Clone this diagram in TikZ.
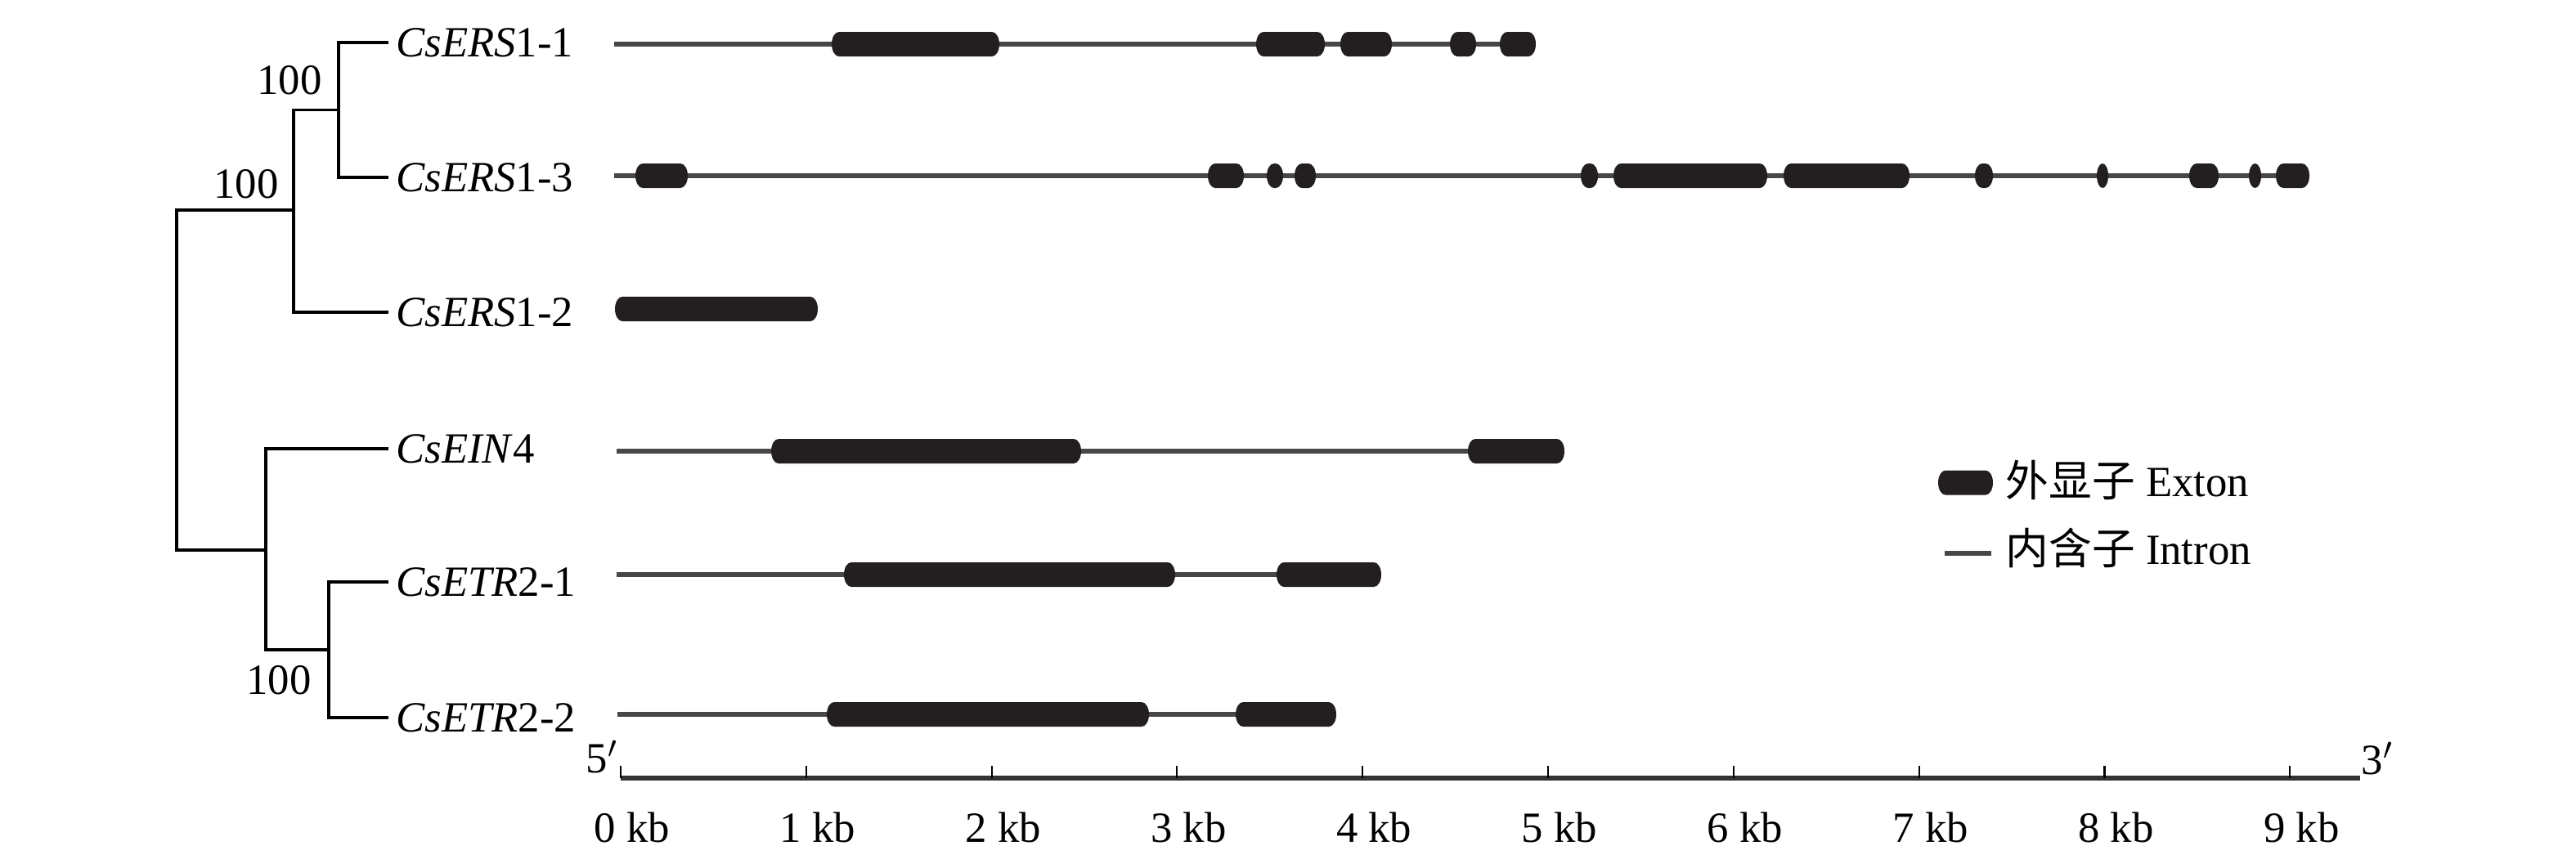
\documentclass[tikz,border=0pt]{standalone}
\usepackage{fontspec}
\setmainfont{Liberation Serif}
\newfontfamily\cjk{Noto Sans CJK SC}
\usepackage{tikz}
\usetikzlibrary{positioning,calc}
\usepackage{xcolor}
\definecolor{exonink}{HTML}{231F20}
\definecolor{intronink}{HTML}{474747}
\newcommand{\exon}[3]{%
  \pgfmathsetmacro{\exr}{min(0.09,(#2-#1)/2)}%
  \fill[exonink] (#1+\exr,#3+0.15) -- (#2-\exr,#3+0.15)
    arc[start angle=90,end angle=-90,x radius=\exr,y radius=0.15]
    -- (#1+\exr,#3-0.15)
    arc[start angle=270,end angle=90,x radius=\exr,y radius=0.15] -- cycle;}

\begin{document}
\begin{tikzpicture}[font=\fontsize{15pt}{18pt}\selectfont,
    branch/.style={line width=1pt, black},
    gene/.style={anchor=west, inner sep=2.5pt, text depth=0pt},
    intron/.style={line width=1.8pt, intronink},
    axisline/.style={line width=1.6pt, black!80}]
  \useasboundingbox (0,0) rectangle (31.5,-10.61);

  % tree
  \node[gene] (ers11) at (4.75,-0.52) {\textit{CsERS}1-1};
  \node[gene] (ers13) at (4.75,-2.17) {\textit{CsERS}1-3};
  \node[gene] (ers12) at (4.75,-3.82) {\textit{CsERS}1-2};
  \node[gene] (ein4)  at (4.75,-5.49) {\textit{CsEIN}4};
  \node[gene] (etr21) at (4.75,-7.12) {\textit{CsETR}2-1};
  \node[gene] (etr22) at (4.75,-8.78) {\textit{CsETR}2-2};
  \coordinate (n1) at (4.14,-1.345);
  \coordinate (n2) at (3.59,-2.57);
  \coordinate (n3) at (3.25,-6.73);
  \coordinate (n4) at (4.02,-7.95);
  \coordinate (root) at (2.16,-4.65);
  \draw[branch] (n1) |- (ers11.west);
  \draw[branch] (n1) |- (ers13.west);
  \draw[branch] (n2) |- (n1);
  \draw[branch] (n2) |- (ers12.west);
  \draw[branch] (root) |- (n2);
  \draw[branch] (root) |- (n3);
  \draw[branch] (n3) |- (ein4.west);
  \draw[branch] (n3) |- (n4);
  \draw[branch] (n4) |- (etr21.west);
  \draw[branch] (n4) |- (etr22.west);
  \node (bs1) at (3.54,-0.98) {100};
  \node (bs2) at (3.01,-2.25) {100};
  \node (bs3) at (3.41,-8.32) {100};

  % gene structures
  \draw[intron] (7.51,-0.54) -- (18.78,-0.54);
  \foreach \a/\b in {10.17/12.22, 15.36/16.20, 16.39/17.02, 17.73/18.05, 18.34/18.78}
    \exon{\a}{\b}{-0.54};
  \draw[intron] (7.51,-2.15) -- (28.24,-2.15);
  \foreach \a/\b in {7.77/8.41, 14.77/15.21, 15.49/15.69, 15.83/16.09, 19.33/19.54,
      19.73/21.61, 21.81/23.35, 24.15/24.37, 25.64/25.78, 26.77/27.13, 27.50/27.65, 27.83/28.24}
    \exon{\a}{\b}{-2.15};
  \exon{7.52}{10.00}{-3.78}
  \draw[intron] (7.54,-5.52) -- (19.13,-5.52);
  \foreach \a/\b in {9.43/13.22, 17.95/19.13}
    \exon{\a}{\b}{-5.52};
  \draw[intron] (7.54,-7.03) -- (16.89,-7.03);
  \foreach \a/\b in {10.32/14.37, 15.61/16.89}
    \exon{\a}{\b}{-7.03};
  \draw[intron] (7.55,-8.74) -- (16.34,-8.74);
  \foreach \a/\b in {10.11/14.05, 15.11/16.34}
    \exon{\a}{\b}{-8.74};

  % scale
  \draw[axisline] (7.59,-9.52) -- (28.86,-9.52);
  \foreach \k in {0,...,9} {
    \draw[line width=0.6pt] (7.59+2.268*\k,-9.52) -- ++(0,0.15);
    \node at (7.73+2.268*\k,-10.12) {\k\ kb};
  }
  \node (five) at (7.36,-9.26) {5$'$};
  \node (three) at (29.07,-9.28) {3$'$};

  % legend
  \exon{23.70}{24.37}{-5.905}
  \draw[intron] (23.78,-6.77) -- (24.35,-6.77);
  \node[anchor=west, inner sep=0pt] (lgexon) at (24.52,-5.87) {{\cjk 外显子} Exton};
  \node[anchor=west, inner sep=0pt] (lgintron) at (24.52,-6.70) {{\cjk 内含子} Intron};
\end{tikzpicture}
\end{document}
